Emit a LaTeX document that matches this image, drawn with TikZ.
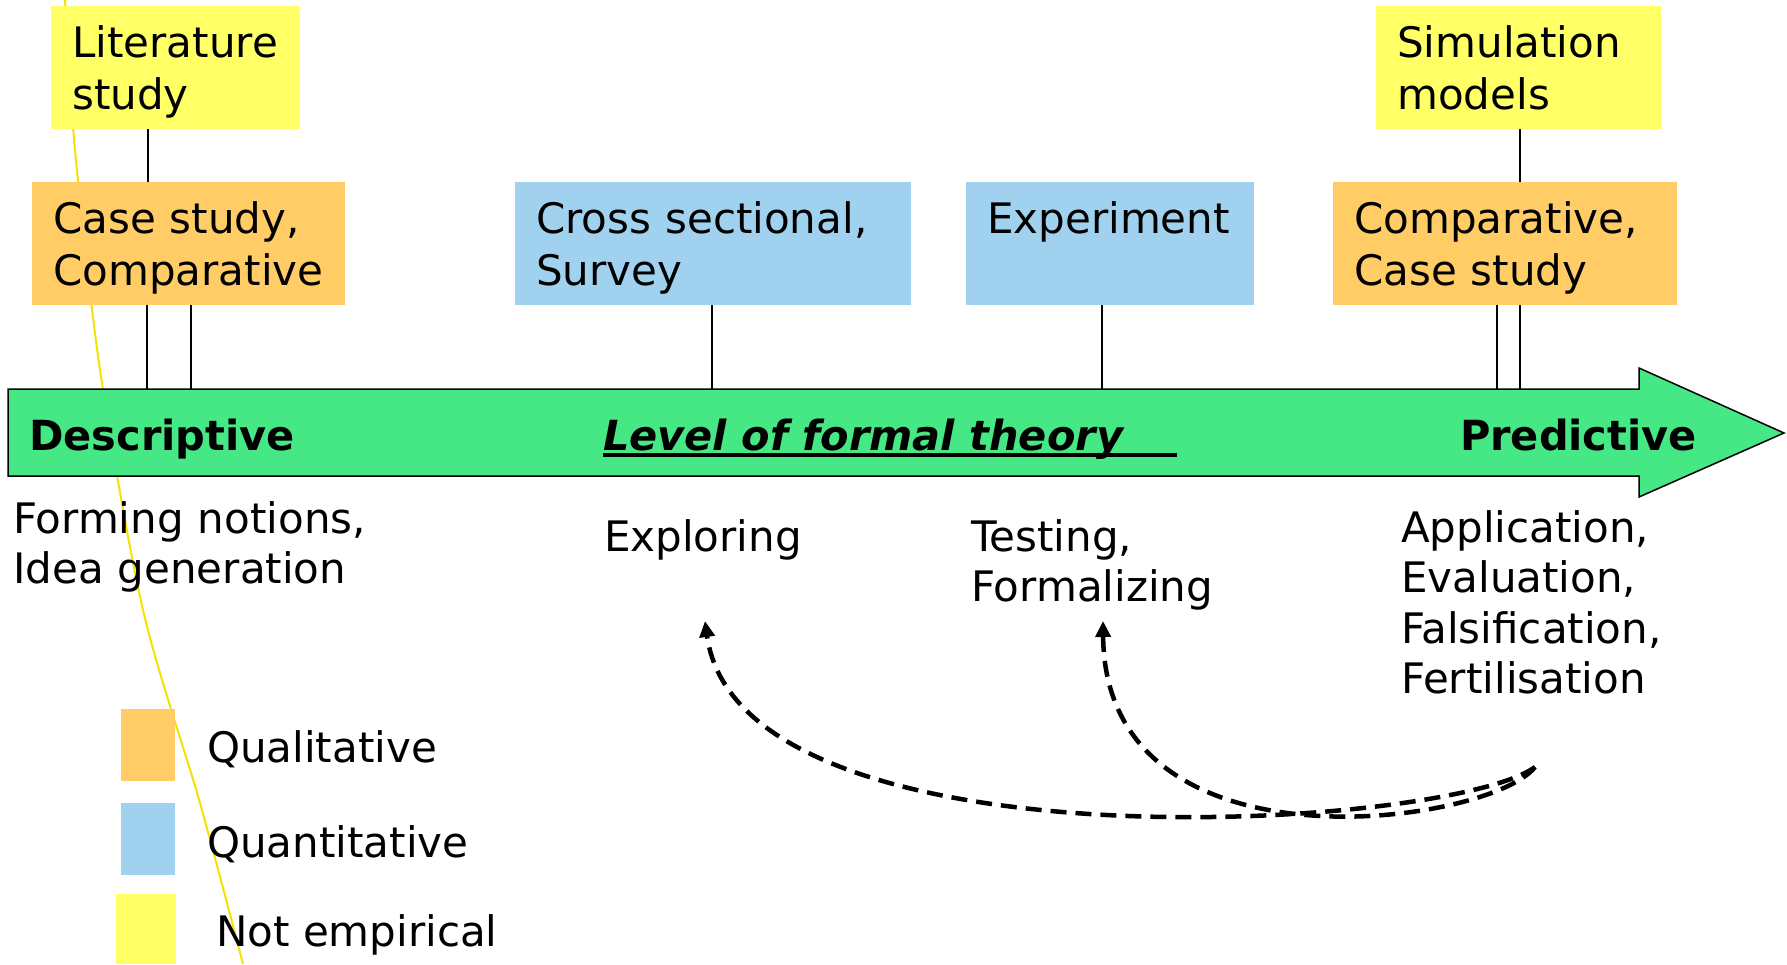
\documentclass[tikz,border=0pt]{standalone}
\usepackage{fontspec}
\setmainfont{DejaVu Sans}
\usetikzlibrary{arrows.meta}
\definecolor{qual}{HTML}{FFCC66}
\definecolor{quant}{HTML}{A0D2F0}
\definecolor{notemp}{HTML}{FFFF66}
\definecolor{axisgreen}{HTML}{45E885}
\definecolor{trace}{HTML}{F2E400}
\begin{document}
\begin{tikzpicture}[x=1pt,y=-1pt,
  box/.style={anchor=north west, inner xsep=21pt, inner ysep=0pt, align=left,
    text height=51pt, text depth=72pt, font=\fontsize{42}{52}\selectfont},
  conn/.style={draw=black, line width=1.8pt},
  lowtext/.style={anchor=base west, inner sep=0pt, align=left, text width=420pt,
    font=\fontsize{42}{50.5}\selectfont},
  boldtext/.style={inner sep=0pt, font=\fontsize{41.5}{50}\selectfont\bfseries},
  legsq/.style={anchor=north west, inner sep=0pt},
  legtext/.style={anchor=base west, inner sep=0pt, font=\fontsize{42}{50}\selectfont},
  feedback/.style={line width=4.5pt, dash pattern=on 16pt off 9pt,
    -{Triangle[length=16pt,width=15pt]}}]
\path[use as bounding box, fill=white] (0,0) rectangle (1787,964);

% yellow trace line
\draw[trace, line width=2pt] plot[smooth] coordinates {(65,0) (75,150) (100,370) (143,610) (200,803) (243,964)};

% axis arrow
\draw[fill=axisgreen, line width=1.5pt, line join=miter]
  (8,389) -- (1639,389) -- (1639,368) -- (1784,433) -- (1639,497) -- (1639,476) -- (8,476) -- cycle;
\coordinate (axtop) at (0,389);

% method boxes
\node[box, fill=notemp, text width=207pt] (lit) at (51,6) {Literature\\study};
\node[box, fill=qual, text width=271pt] (caseL) at (32,182) {Case~study,\\Comparative};
\node[box, fill=quant, text width=354pt] (cross) at (515,182) {Cross~sectional,\\Survey};
\node[box, fill=quant, text width=246pt] (exp) at (966,182) {Experiment};
\node[box, fill=notemp, text width=243pt] (sim) at (1376,6) {Simulation\\models};
\node[box, fill=qual, text width=302pt] (compR) at (1333,182) {Comparative,\\Case~study};

% connectors
\draw[conn] (lit.south west) ++(97,0) coordinate (l1) -- (l1 |- caseL.north);
\draw[conn] (caseL.south west) ++(115,0) coordinate (c1) -- (c1 |- axtop);
\draw[conn] (caseL.south west) ++(159,0) coordinate (c2) -- (c2 |- axtop);
\draw[conn] (cross.south west) ++(197,0) coordinate (x1) -- (x1 |- axtop);
\draw[conn] (exp.south west) ++(136,0) coordinate (e1) -- (e1 |- axtop);
\draw[conn] (sim.south west) ++(144,0) coordinate (s1) -- (s1 |- compR.north);
\draw[conn] (compR.south west) ++(164,0) coordinate (r1) -- (r1 |- axtop);
\draw[conn] (compR.south west) ++(187,0) coordinate (r2) -- (r2 |- axtop);

% axis labels
\node[boldtext, anchor=base west] (desc) at (29,450) {Descriptive};
\node[boldtext, anchor=base east] (pred) at (1697,450) {Predictive};
\node[boldtext, anchor=base west, font=\fontsize{41.5}{50}\selectfont\bfseries\itshape] (lvl) at (603,450) {Level of formal theory};
\draw[line width=4pt] ([yshift=-5pt]lvl.base west) -- ++(574,0);

% texts below axis
\node[lowtext] (forming) at (13,533) {Forming notions,\\Idea generation};
\node[lowtext] (explore) at (604,551) {Exploring};
\node[lowtext] (testing) at (971,551) {Testing,\\Formalizing};
\node[lowtext] (apply) at (1401,542) {Application,\\Evaluation,\\Falsification,\\Fertilisation};

% feedback arrows
\coordinate (src) at (1535,767);
\coordinate (tExp) at (705,621);
\coordinate (tTest) at (1103,621);
\draw[feedback] (src) .. controls (1450,830) and (740,875) .. (tExp);
\draw[feedback] (src) .. controls (1490,825) and (1105,880) .. (tTest);

% legend
\node[legsq, fill=qual, minimum width=54pt, minimum height=72pt] (lq) at (121,709) {};
\node[legsq, fill=quant, minimum width=54pt, minimum height=72pt] (ln) at (121,803) {};
\node[legsq, fill=notemp, minimum width=60pt, minimum height=70pt] (le) at (116,894) {};
\node[legtext] (lqt) at (207,762) {Qualitative};
\node[legtext] (lnt) at (207,857) {Quantitative};
\node[legtext] (let) at (216,946) {Not empirical};
\end{tikzpicture}
\end{document}
